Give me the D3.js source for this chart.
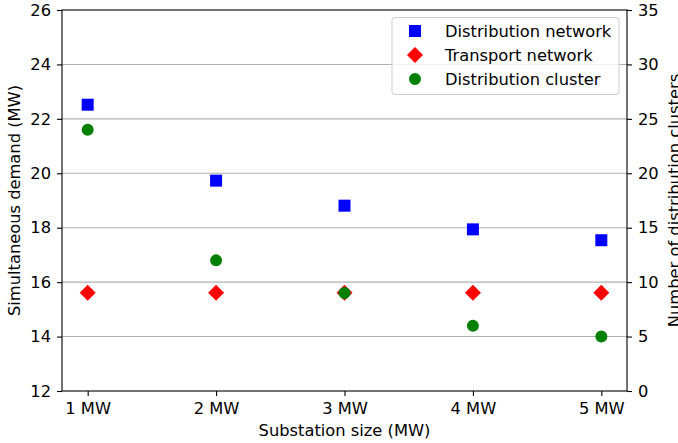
<!DOCTYPE html>
<html><head><meta charset="utf-8">
<script src="https://cdn.jsdelivr.net/npm/d3@7"></script>
<style>body{margin:0;background:#fff}svg{font-family:"DejaVu Sans",sans-serif}</style>
</head><body><svg id="c" width="678" height="443"></svg>
<script>
const categories = ["1 MW","2 MW","3 MW","4 MW","5 MW"];
const distributionNetwork = [22.52, 19.73, 18.81, 17.94, 17.54];
const transportNetwork = [15.61, 15.61, 15.61, 15.61, 15.61];
const distributionCluster = [24, 12, 9, 6, 5];
const leftTicks = [12,14,16,18,20,22,24,26];
const rightTicks = [0,5,10,15,20,25,30,35];

const svg = d3.select("#c");
const L=62, R=627, T=10, B=391;
const x = d3.scaleLinear().domain([-0.2, 4.2]).range([L,R]);
const yL = d3.scaleLinear().domain([12,26]).range([B,T]);
const yR = d3.scaleLinear().domain([0,35]).range([B,T]);

// grid
svg.append("g").selectAll("line").data(leftTicks.slice(1,-1)).join("line")
  .attr("x1",L).attr("x2",R).attr("y1",d=>yL(d)).attr("y2",d=>yL(d))
  .attr("stroke","#b0b0b0").attr("stroke-width",1.1);

const fs = "16.3px";
function styleAxis(g){
  g.select(".domain").remove();
  g.selectAll(".tick line").attr("stroke","#000").attr("stroke-width",1.1);
  g.selectAll(".tick text").attr("fill","#000").style("font-size",fs).style("font-family","DejaVu Sans");
}
const gx = svg.append("g").attr("transform",`translate(0,${B})`)
  .call(d3.axisBottom(x).tickValues([0,1,2,3,4]).tickFormat(i=>categories[i]).tickSize(5).tickPadding(6));
styleAxis(gx);
const gl = svg.append("g").attr("transform",`translate(${L},0)`)
  .call(d3.axisLeft(yL).tickValues(leftTicks).tickSize(5).tickPadding(6));
styleAxis(gl);
const gr = svg.append("g").attr("transform",`translate(${R},0)`)
  .call(d3.axisRight(yR).tickValues(rightTicks).tickSize(5).tickPadding(6));
styleAxis(gr);

// frame
svg.append("rect").attr("x",L).attr("y",T).attr("width",R-L).attr("height",B-T)
  .attr("fill","none").attr("stroke","#000").attr("stroke-width",1.1);

const sq = d3.symbol().type(d3.symbolSquare).size(144);
const dm = d3.symbol().type(d3.symbolSquare).size(128);
const ci = d3.symbol().type(d3.symbolCircle).size(113);

svg.append("g").selectAll("path").data(distributionNetwork).join("path")
  .attr("d",sq).attr("transform",(d,i)=>`translate(${x(i)},${yL(d)})`).attr("fill","#0000ff");
svg.append("g").selectAll("path").data(transportNetwork).join("path")
  .attr("d",dm).attr("transform",(d,i)=>`translate(${x(i)},${yL(d)}) rotate(45)`).attr("fill","#ff0000");
svg.append("g").selectAll("path").data(distributionCluster).join("path")
  .attr("d",ci).attr("transform",(d,i)=>`translate(${x(i)},${yR(d)})`).attr("fill","#008000");

// axis labels
svg.append("text").attr("x",(L+R)/2).attr("y",436).attr("text-anchor","middle")
  .style("font-size",fs).text("Substation size (MW)");
svg.append("text").attr("transform",`translate(19.5,${(T+B)/2}) rotate(-90)`).attr("text-anchor","middle")
  .style("font-size",fs).text("Simultaneous demand (MW)");
svg.append("text").attr("transform",`translate(680,${(T+B)/2}) rotate(-90)`).attr("text-anchor","middle")
  .style("font-size",fs).text("Number of distribution clusters");

// legend
const lg = svg.append("g");
lg.append("rect").attr("x",392).attr("y",17.5).attr("width",227).attr("height",77).attr("rx",3)
  .attr("fill","#fff").attr("fill-opacity",0.8).attr("stroke","#cccccc").attr("stroke-width",1);
const items = [
  {name:"Distribution network", sym:sq, fill:"#0000ff", rot:0},
  {name:"Transport network", sym:dm, fill:"#ff0000", rot:45},
  {name:"Distribution cluster", sym:ci, fill:"#008000", rot:0}
];
items.forEach((it,k)=>{
  const yy = 31 + k*24;
  lg.append("path").attr("d",it.sym).attr("fill",it.fill)
    .attr("transform",`translate(415,${yy}) rotate(${it.rot})`);
  lg.append("text").attr("x",445).attr("y",yy+6).style("font-size",fs).text(it.name);
});
</script></body></html>
